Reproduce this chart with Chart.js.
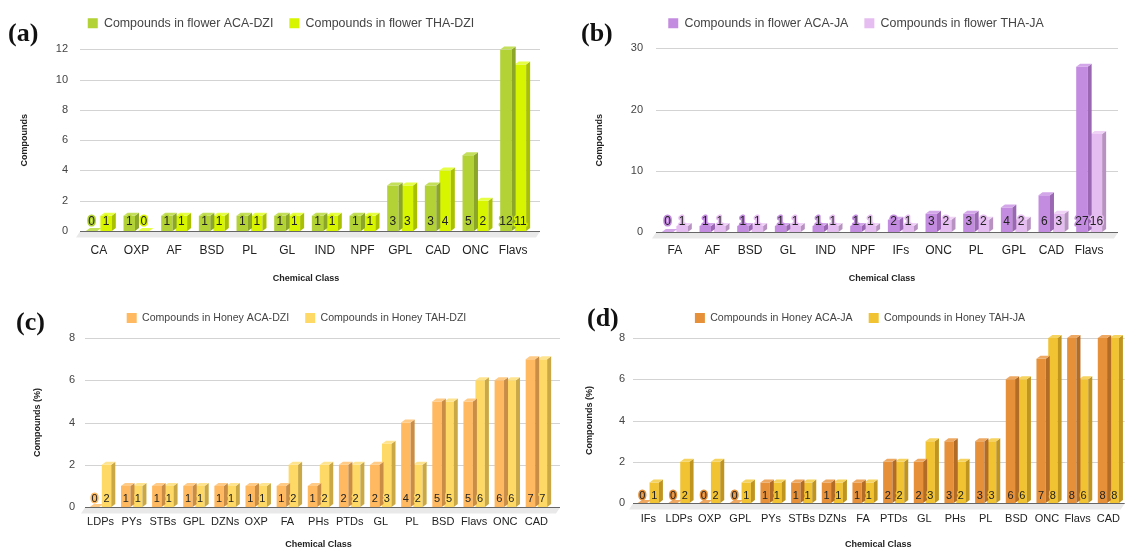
<!DOCTYPE html>
<html>
<head>
<meta charset="utf-8">
<script src="https://cdn.jsdelivr.net/npm/chart.js@4.4.1/dist/chart.umd.min.js"></script>
<style>
  body { margin: 0; background: #fff; }
  #wrap { position: relative; width: 1129px; height: 548px; overflow: hidden; background: #fff; }
  .panel { position: absolute; }
  .tag { position: absolute; font-family: "Liberation Serif", serif; font-weight: bold; font-size: 26px; line-height: 26px; color: #111; }
</style>
</head>
<body>
<div id="wrap">
  <div class="panel" style="left:0;top:0;width:560px;height:290px"><canvas id="chart_a"></canvas></div>
  <div class="panel" style="left:570px;top:0;width:559px;height:290px"><canvas id="chart_b"></canvas></div>
  <div class="panel" style="left:0;top:290px;width:570px;height:258px"><canvas id="chart_c"></canvas></div>
  <div class="panel" style="left:570px;top:290px;width:559px;height:258px"><canvas id="chart_d"></canvas></div>
  <div class="tag" style="left:8px;top:20px">(a)</div>
  <div class="tag" style="left:581px;top:20px">(b)</div>
  <div class="tag" style="left:16px;top:309px">(c)</div>
  <div class="tag" style="left:587px;top:305px">(d)</div>
</div>
<script>
// (a) flower, DZI
const cats_a = ["CA", "OXP", "AF", "BSD", "PL", "GL", "IND", "NPF", "GPL", "CAD", "ONC", "Flavs"];
const flower_aca_dzi = [0, 1, 1, 1, 1, 1, 1, 1, 3, 3, 5, 12];
const flower_tha_dzi = [1, 0, 1, 1, 1, 1, 1, 1, 3, 4, 2, 11];

// (b) flower, JA
const cats_b = ["FA", "AF", "BSD", "GL", "IND", "NPF", "IFs", "ONC", "PL", "GPL", "CAD", "Flavs"];
const flower_aca_ja = [0, 1, 1, 1, 1, 1, 2, 3, 3, 4, 6, 27];
const flower_tha_ja = [1, 1, 1, 1, 1, 1, 1, 2, 2, 2, 3, 16];

// (c) honey, DZI
const cats_c = ["LDPs", "PYs", "STBs", "GPL", "DZNs", "OXP", "FA", "PHs", "PTDs", "GL", "PL", "BSD", "Flavs", "ONC", "CAD"];
const honey_aca_dzi = [0, 1, 1, 1, 1, 1, 1, 1, 2, 2, 4, 5, 5, 6, 7];
const honey_tah_dzi = [2, 1, 1, 1, 1, 1, 2, 2, 2, 3, 2, 5, 6, 6, 7];

// (d) honey, JA
const cats_d = ["IFs", "LDPs", "OXP", "GPL", "PYs", "STBs", "DZNs", "FA", "PTDs", "GL", "PHs", "PL", "BSD", "ONC", "Flavs", "CAD"];
const honey_aca_ja = [0, 0, 0, 0, 1, 1, 1, 1, 2, 2, 3, 3, 6, 7, 8, 8];
const honey_tah_ja = [1, 2, 2, 1, 1, 1, 1, 1, 2, 3, 2, 3, 6, 8, 6, 8];

// fake 3D: floor, grid, side/top faces, value labels at the bar foot
const bars3d = {
  id: "bars3d",
  afterInit(chart, args, opts) {
    const lg = chart.legend;
    if (!lg) return;
    const fit = lg.fit;
    lg.fit = function () { fit.call(this); this.height += opts.legendGap || 0; };
  },
  beforeDatasetsDraw(chart, args, opts) {
    const ctx = chart.ctx, a = chart.chartArea, y = chart.scales.y;
    const right = a.right + opts.gridExt;
    const y0 = Math.round(y.getPixelForValue(0)) + 0.5;
    ctx.save();
    ctx.fillStyle = "#e9e9e9";
    ctx.beginPath();
    ctx.moveTo(a.left - 4, y0 + 6);
    ctx.lineTo(right - 4, y0 + 6);
    ctx.lineTo(right, y0);
    ctx.lineTo(a.left, y0);
    ctx.fill();
    ctx.lineWidth = 1;
    ctx.strokeStyle = "#d3d3d3";
    y.ticks.forEach(t => {
      if (t.value === 0) return;
      const py = Math.round(y.getPixelForValue(t.value)) + 0.5;
      ctx.beginPath(); ctx.moveTo(a.left, py); ctx.lineTo(right, py); ctx.stroke();
    });
    ctx.strokeStyle = "#666";
    ctx.beginPath(); ctx.moveTo(a.left, y0); ctx.lineTo(right, y0); ctx.stroke();
    ctx.restore();
  },
  afterDatasetDraw(chart, args, opts) {
    const ctx = chart.ctx;
    const ds = chart.data.datasets[args.index];
    const dx = opts.dx, dy = opts.dy;
    ctx.save();
    args.meta.data.forEach(bar => {
      const p = bar.getProps(["x", "y", "base", "width"], true);
      const l = p.x - p.width / 2, r = p.x + p.width / 2;
      ctx.fillStyle = ds.sideColor;
      ctx.beginPath();
      ctx.moveTo(r, p.y); ctx.lineTo(r + dx, p.y - dy); ctx.lineTo(r + dx, p.base - dy); ctx.lineTo(r, p.base);
      ctx.fill();
      ctx.fillStyle = ds.topColor;
      ctx.beginPath();
      ctx.moveTo(l, p.y); ctx.lineTo(l + dx, p.y - dy); ctx.lineTo(r + dx, p.y - dy); ctx.lineTo(r, p.y);
      ctx.fill();
    });
    ctx.restore();
  },
  afterDatasetsDraw(chart, args, opts) {
    const ctx = chart.ctx;
    ctx.save();
    ctx.font = opts.labelSize + "px 'Liberation Sans', Arial, sans-serif";
    ctx.textAlign = "center";
    ctx.textBaseline = "middle";
    ctx.lineJoin = "round";
    chart.data.datasets.forEach((ds, i) => {
      chart.getDatasetMeta(i).data.forEach((bar, j) => {
        const p = bar.getProps(["x", "base"], true);
        const ty = p.base - opts.labelOff;
        ctx.lineWidth = 3;
        ctx.strokeStyle = ds.backgroundColor;
        ctx.strokeText(String(ds.data[j]), p.x, ty);
        ctx.fillStyle = "#222";
        ctx.fillText(String(ds.data[j]), p.x, ty);
      });
    });
    ctx.restore();
  }
};

Chart.defaults.font.family = "'Liberation Sans', Arial, sans-serif";

function make_chart(id, p) {
  return new Chart(document.getElementById(id), {
    type: "bar",
    data: {
      labels: p.cats,
      datasets: p.series.map((s, i) => ({
        label: p.names[i],
        data: s,
        backgroundColor: p.colors[i],
        sideColor: p.sides[i],
        topColor: p.tops[i],
        borderWidth: 0,
        categoryPercentage: 0.77,
        barPercentage: 0.79
      }))
    },
    options: {
      responsive: true,
      maintainAspectRatio: false,
      animation: false,
      layout: { padding: { left: p.padLeft, right: p.padRight, top: p.padTop, bottom: 0 } },
      plugins: {
        legend: {
          labels: { boxWidth: 10, boxHeight: 10, padding: 16, color: "#444", font: { size: p.legendFont } }
        },
        tooltip: { enabled: false },
        bars3d: { dx: 4, dy: 3, gridExt: p.gridExt, legendGap: p.legendGap, labelOff: p.labelOff, labelSize: p.labelSize }
      },
      scales: {
        x: {
          grid: { display: false, drawTicks: false },
          border: { display: false },
          ticks: { padding: p.xTickPad, color: "#222", font: { size: p.xFont }, autoSkip: false, maxRotation: 0 },
          title: { display: true, text: "Chemical Class", color: "#222", font: { size: 9, weight: "bold" }, padding: { top: 0, bottom: p.xTitlePad } },
          afterFit: s => { s.height = p.xH; }
        },
        y: {
          min: 0,
          max: p.yMax,
          ticks: { stepSize: p.step, padding: p.yTickPad, color: "#444", font: { size: 11 } },
          grid: { display: false, drawTicks: false },
          border: { display: false },
          title: { display: true, text: p.yTitle, color: "#222", font: { size: 9, weight: "bold" }, padding: { top: p.yTitleX - p.padLeft - 5.4, bottom: 0 } },
          afterFit: s => { s.width = p.plotLeft - p.padLeft; }
        }
      }
    },
    plugins: [bars3d]
  });
}

make_chart("chart_a", {
  cats: cats_a, series: [flower_aca_dzi, flower_tha_dzi],
  names: ["Compounds in flower ACA-DZI", "Compounds in flower THA-DZI"],
  colors: ["#b2d235", "#d8f500"], sides: ["#8ca62a", "#a9c000"], tops: ["#c4e05a", "#e6ff45"],
  yMax: 12, step: 2, yTitle: "Compounds",
  legendFont: 12.4, padTop: 1, legendGap: 10, padLeft: 30, padRight: 28, gridExt: 8,
  plotLeft: 80, yTickPad: 12, yTitleX: 25,
  xH: 59, xTickPad: 12, xTitlePad: 5.6, xFont: 12,
  labelOff: 9, labelSize: 12
});

make_chart("chart_b", {
  cats: cats_b, series: [flower_aca_ja, flower_tha_ja],
  names: ["Compounds in flower ACA-JA", "Compounds in flower THA-JA"],
  colors: ["#c48ce0", "#e6bdf0"], sides: ["#9a68b3", "#b893c2"], tops: ["#d3a6ea", "#efd2f5"],
  yMax: 30, step: 10, yTitle: "Compounds",
  legendFont: 12.4, padTop: 1, legendGap: 9, padLeft: 34, padRight: 21, gridExt: 10,
  plotLeft: 86, yTickPad: 13, yTitleX: 30,
  xH: 58, xTickPad: 11, xTitlePad: 5.6, xFont: 12,
  labelOff: 10, labelSize: 12
});

make_chart("chart_c", {
  cats: cats_c, series: [honey_aca_dzi, honey_tah_dzi],
  names: ["Compounds in Honey ACA-DZI", "Compounds in Honey TAH-DZI"],
  colors: ["#ffb960", "#ffd966"], sides: ["#c98d45", "#c9a845"], tops: ["#ffcb86", "#ffe48f"],
  yMax: 8, step: 2, yTitle: "Compounds (%)",
  legendFont: 10.6, padTop: 6.7, legendGap: 4.7, padLeft: 41, padRight: 18, gridExt: 8,
  plotLeft: 85, yTickPad: 10, yTitleX: 38,
  xH: 41, xTickPad: 8, xTitlePad: -2.4, xFont: 11,
  labelOff: 8, labelSize: 11
});

make_chart("chart_d", {
  cats: cats_d, series: [honey_aca_ja, honey_tah_ja],
  names: ["Compounds in Honey ACA-JA", "Compounds in Honey TAH-JA"],
  colors: ["#e6913a", "#f1c232"], sides: ["#b36c26", "#bf9520"], tops: ["#eea862", "#f6d35f"],
  yMax: 8, step: 2, yTitle: "Compounds (%)",
  legendFont: 10.6, padTop: 6.7, legendGap: 4.7, padLeft: 22, padRight: 1, gridExt: 1,
  plotLeft: 63, yTickPad: 8, yTitleX: 20,
  xH: 45, xTickPad: 9, xTitlePad: -2.4, xFont: 11,
  labelOff: 7, labelSize: 11
});
</script>
</body>
</html>
